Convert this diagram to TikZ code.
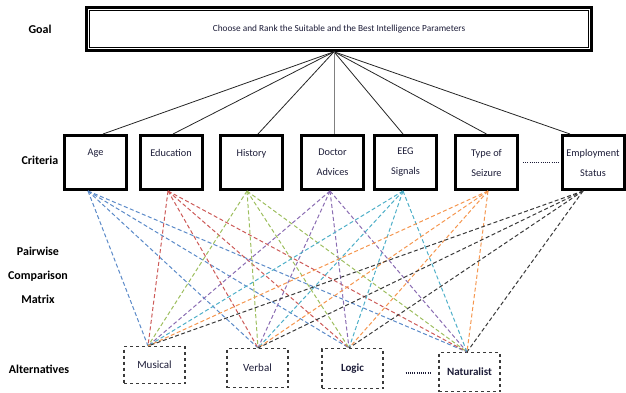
\documentclass[tikz,border=0pt]{standalone}
\usepackage{fontspec}
\setmainfont{Carlito}
\definecolor{txt}{HTML}{1C1C38}
\definecolor{cage}{HTML}{5B8AC8}
\definecolor{cedu}{HTML}{CC5A58}
\definecolor{chist}{HTML}{9DBE5E}
\definecolor{cdoc}{HTML}{8A6CB2}
\definecolor{ceeg}{HTML}{4EAFC8}
\definecolor{ctype}{HTML}{F5964E}
\definecolor{cemp}{HTML}{3A3A3A}
\begin{document}
\begin{tikzpicture}[x=1pt,y=-1pt,
  lvl/.style={font=\bfseries\fontsize{12}{24}\selectfont, text=black, align=center},
  goalbox/.style={draw, line width=2.5pt, minimum width=505pt, minimum height=43pt,
    inner sep=0pt, font=\fontsize{9.3}{11}\selectfont, text=txt},
  critbox/.style={draw, line width=3pt, minimum width=62pt, minimum height=54pt,
    inner sep=0pt, align=center, font=\fontsize{10.3}{20}\selectfont, text=txt},
  altbox/.style={draw=cemp, dashed, line width=1.1pt, minimum width=61pt,
    inner sep=0pt, font=\fontsize{11}{13}\selectfont, text=txt},
  tie/.style={draw=black!85, line width=0.8pt},
  pair/.style={line width=1pt, dash pattern=on 4pt off 2.5pt},
  dotsep/.style={draw=txt, line width=1.2pt, dash pattern=on 1pt off 1.2pt}]
\useasboundingbox (0,0) rectangle (626,392);

% level labels
\node[lvl] (lgoal) at (40,29) {Goal};
\node[lvl] (lcrit) at (40,160) {Criteria};
\node[lvl] (lpair) at (38,275) {Pairwise\\Comparison\\Matrix};
\node[lvl] (lalt)  at (39,369) {Alternatives};

% goal with its double frame
\node[goalbox] (goal) at (339,29) {Choose and Rank the Suitable and the Best Intelligence Parameters};
\draw[line width=0.8pt] ([shift={(4.5,4.5)}]goal.north west) rectangle ([shift={(-4.5,-4.5)}]goal.south east);

% criteria
\node[critbox] (age)  at (95.5,162.5)  {Age\\\mbox{}};
\node[critbox] (edu)  at (171,162.5)   {Education\\\mbox{}};
\node[critbox] (hist) at (251.5,162.5) {History\\\mbox{}};
\node[critbox] (doc)  at (332.5,162.5) {Doctor\\Advices};
\node[critbox] (eeg)  at (405.5,162.5) {EEG\\Signals};
\node[critbox] (type) at (486.5,162.5) {Type of\\Seizure};
\node[critbox] (emp)  at (593,162.5)   {Employment\\Status};
\draw[dotsep] ([xshift=4pt]type.east) -- ([xshift=-2pt]emp.west);

% alternatives
\node[altbox, minimum height=37pt] (mus)   at (154.5,365)  {Musical};
\node[altbox, minimum height=39pt] (verb)  at (257.5,368)  {Verbal};
\node[altbox, minimum height=40pt] (logic) at (352.5,368.5) {\bfseries Logic};
\node[altbox, minimum height=39pt] (nat)   at (469.5,372)  {\bfseries Naturalist};
\draw[dotsep] ([shift={(22,4.5)}]logic.east) -- ([shift={(-8,1)}]nat.west);

% attachment points
\coordinate (goal-b) at ([xshift=-5pt]goal.south);
\coordinate (age-t)  at ([xshift=7.5pt]age.north);
\coordinate (edu-t)  at ([xshift=2pt]edu.north);
\coordinate (hist-t) at ([xshift=6.5pt]hist.north);
\coordinate (doc-t)  at ([xshift=1.5pt]doc.north);
\coordinate (eeg-t)  at ([xshift=-2.5pt]eeg.north);
\coordinate (type-t) at (type.north);
\coordinate (emp-t)  at ([xshift=-23pt]emp.north);
\coordinate (age-b)  at ([xshift=-7.5pt]age.south);
\coordinate (edu-b)  at ([xshift=-3pt]edu.south);
\coordinate (hist-b) at ([xshift=-4.5pt]hist.south);
\coordinate (doc-b)  at ([xshift=-2.5pt]doc.south);
\coordinate (eeg-b)  at ([xshift=-2.5pt]eeg.south);
\coordinate (type-b) at ([xshift=1.5pt]type.south);
\coordinate (emp-b)  at ([xshift=-10pt]emp.south);
\coordinate (mus-t)   at ([xshift=-6.5pt]mus.north);
\coordinate (verb-t)  at ([xshift=0.5pt]verb.north);
\coordinate (logic-t) at ([xshift=-3.5pt]logic.north);
\coordinate (nat-t)   at ([xshift=-2.5pt]nat.north);

% goal to criteria
\foreach \c in {age, edu, hist, eeg, type, emp}
  \draw[tie] (goal-b) -- (\c-t);
\draw[draw=black!50, line width=0.9pt] (goal-b) -- (doc-t);

% criteria to alternatives
\foreach \c/\col in {age/cage, edu/cedu, hist/chist, doc/cdoc, eeg/ceeg, type/ctype, emp/cemp}
  \foreach \a in {mus, verb, logic, nat}
    \draw[pair, \col] (\c-b) -- (\a-t);
\end{tikzpicture}
\end{document}
